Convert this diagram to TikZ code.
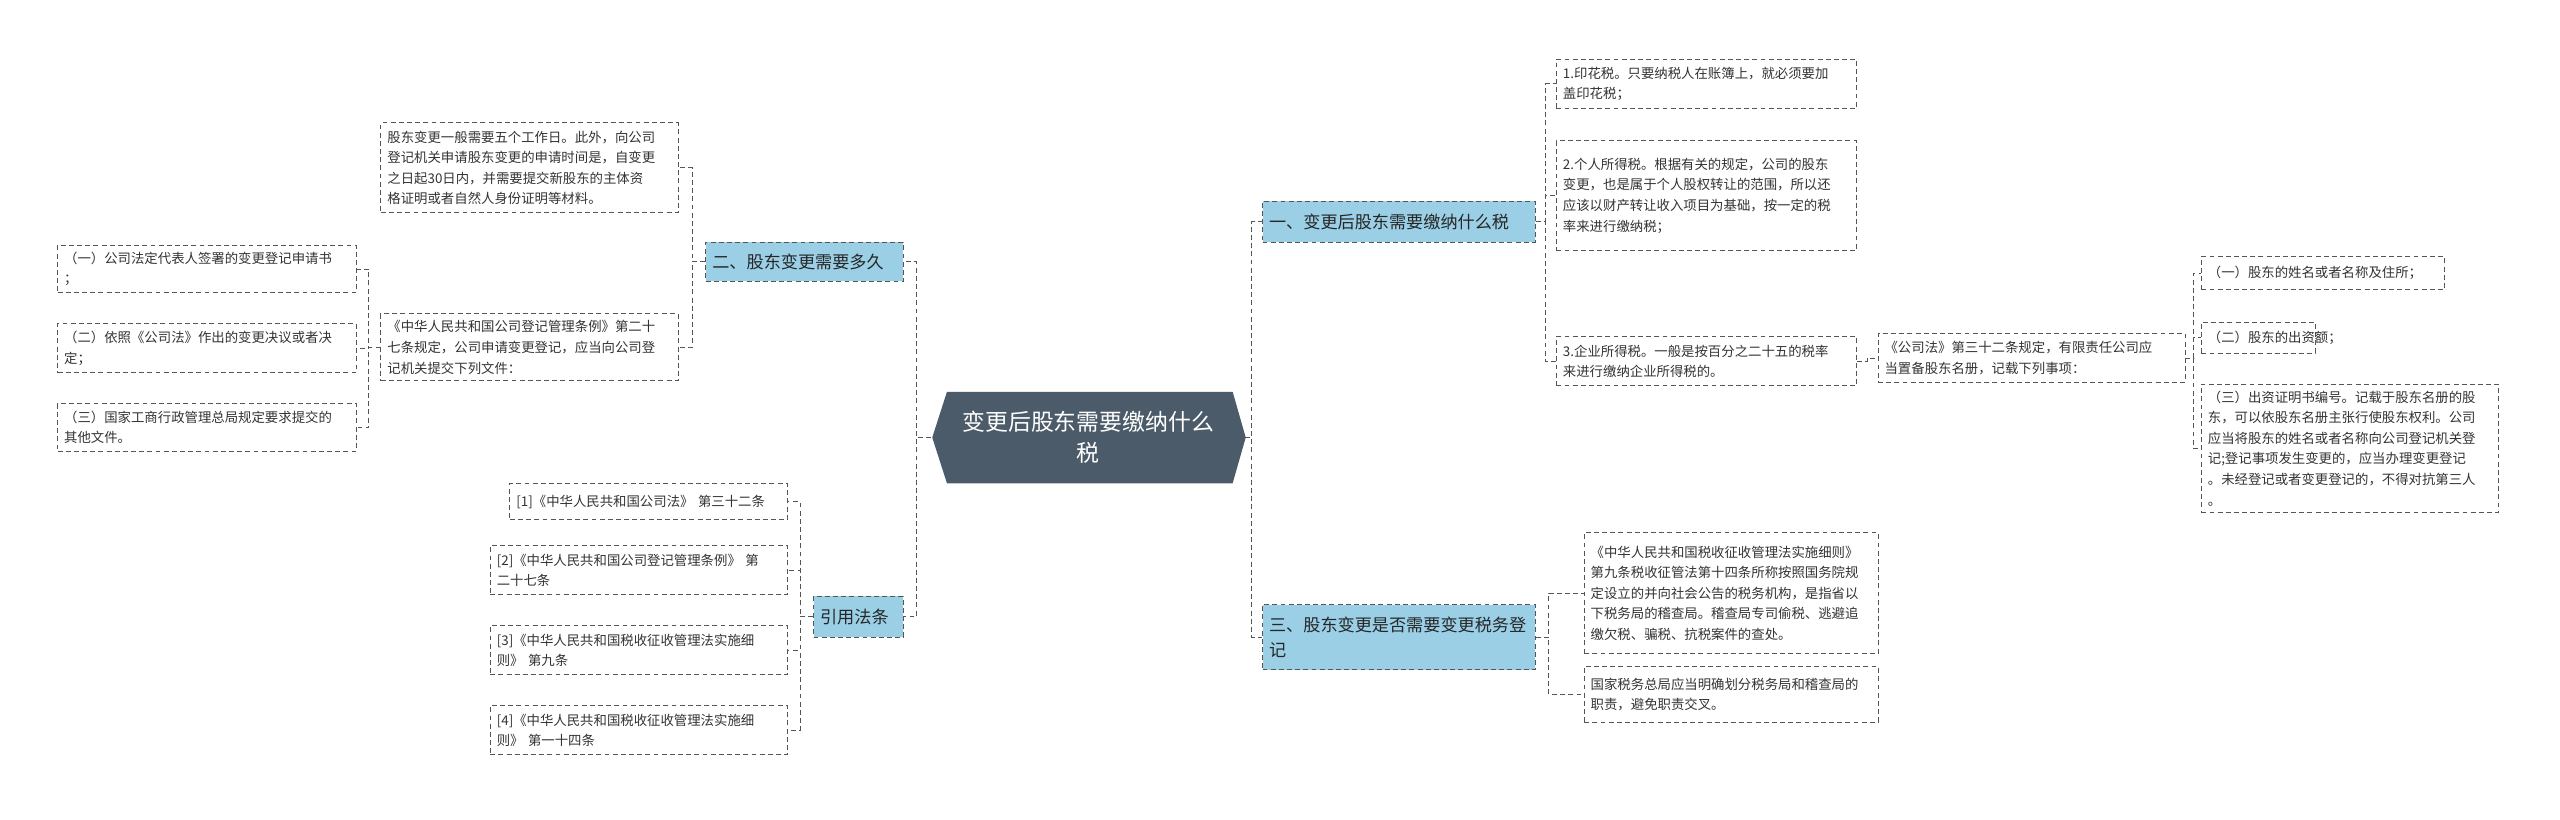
\documentclass[tikz,border=0pt]{standalone}
\usepackage{fontspec}
\setmainfont{Noto Sans CJK SC}
\usetikzlibrary{calc}
\definecolor{bfill}{HTML}{9ACFE6}
\definecolor{cfill}{HTML}{4B5B6A}
\definecolor{lc}{HTML}{555555}
\tikzset{
 leaf/.style={draw=lc, dash pattern=on 3pt off 2pt, line width=0.6pt, align=left, anchor=north west, inner sep=4pt, font=\fontsize{8.2}{12.6}\selectfont, text=black!80},
 branch/.style={leaf, fill=bfill, font=\fontsize{10.5}{15}\selectfont, text=black!85},
 conn/.style={draw=lc, dash pattern=on 3pt off 2pt, line width=0.6pt},
}
\newcommand{\lbox}[6]{\node[leaf, text width=#4-8pt, minimum height=#5] (#1) at (#2,#3) {#6};}
\begin{document}
\begin{tikzpicture}[x=1pt,y=-1pt]
\useasboundingbox (0,0) rectangle (1568,502);
% center
\fill[cfill] (580,240) -- (755,240) -- (763,268) -- (755,296) -- (580,296) -- (571,268) -- cycle;
\node[minimum width=192pt, minimum height=56pt, inner sep=0pt, align=center, text=white, font=\fontsize{14}{19}\selectfont] (c) at (666.5,268) {变更后股东需要缴纳什么\\税};
% branches
\node[branch, text width=159pt, minimum height=25pt] (b1) at (773,123) {一、变更后股东需要缴纳什么税};
\node[branch, text width=159pt, minimum height=40pt] (b3) at (773,370) {三、股东变更是否需要变更税务登\\记};
\node[branch, text width=113pt, minimum height=24pt] (b2) at (432,148) {二、股东变更需要多久};
\node[branch, text width=47pt, minimum height=25pt] (b4) at (498,365) {引用法条};
% branch 1 leaves
\lbox{l1}{953}{36}{184pt}{30pt}{1.印花税。只要纳税人在账簿上，就必须要加\\盖印花税；}
\lbox{l2}{953}{86}{184pt}{67pt}{2.个人所得税。根据有关的规定，公司的股东\\变更，也是属于个人股权转让的范围，所以还\\应该以财产转让收入项目为基础，按一定的税\\率来进行缴纳税；}
\lbox{l3}{953}{206}{184pt}{30pt}{3.企业所得税。一般是按百分之二十五的税率\\来进行缴纳企业所得税的。}
\lbox{l4}{1150}{204}{188pt}{30pt}{《公司法》第三十二条规定，有限责任公司应\\当置备股东名册，记载下列事项：}
\lbox{s1}{1348}{157}{149pt}{20pt}{（一）股东的姓名或者名称及住所；}
\lbox{s2}{1348}{197}{70pt}{19pt}{（二）股东的出资额；}
\lbox{s3}{1348}{235}{182pt}{73pt}{（三）出资证明书编号。记载于股东名册的股\\东，可以依股东名册主张行使股东权利。公司\\应当将股东的姓名或者名称向公司登记机关登\\记;登记事项发生变更的，应当办理变更登记\\。未经登记或者变更登记的，不得对抗第三人\\。}
% branch 3 leaves
\lbox{t1}{970}{326}{180pt}{74pt}{《中华人民共和国税收征收管理法实施细则》\\第九条税收征管法第十四条所称按照国务院规\\定设立的并向社会公告的税务机构，是指省以\\下税务局的稽查局。稽查局专司偷税、逃避追\\缴欠税、骗税、抗税案件的查处。}
\lbox{t2}{970}{408}{180pt}{34pt}{国家税务总局应当明确划分税务局和稽查局的\\职责，避免职责交叉。}
% branch 2 leaves
\lbox{n1}{233}{75}{182pt}{55pt}{股东变更一般需要五个工作日。此外，向公司\\登记机关申请股东变更的申请时间是，自变更\\之日起30日内，并需要提交新股东的主体资\\格证明或者自然人身份证明等材料。}
\lbox{n2}{233}{192}{182pt}{41pt}{《中华人民共和国公司登记管理条例》第二十\\七条规定，公司申请变更登记，应当向公司登\\记机关提交下列文件：}
\lbox{m1}{35}{150}{183pt}{28pt}{（一）公司法定代表人签署的变更登记申请书\\；}
\lbox{m2}{35}{198}{183pt}{30pt}{（二）依照《公司法》作出的变更决议或者决\\定；}
\lbox{m3}{35}{247}{183pt}{29pt}{（三）国家工商行政管理总局规定要求提交的\\其他文件。}
% branch 4 leaves
\lbox{r1}{312}{296}{170pt}{22pt}{[1]《中华人民共和国公司法》 第三十二条}
\lbox{r2}{300}{334}{182pt}{30pt}{[2]《中华人民共和国公司登记管理条例》 第\\二十七条}
\lbox{r3}{300}{383}{182pt}{30pt}{[3]《中华人民共和国税收征收管理法实施细\\则》 第九条}
\lbox{r4}{300}{432}{182pt}{30pt}{[4]《中华人民共和国税收征收管理法实施细\\则》 第一十四条}
% connectors
\draw[conn] (c.east) -- ++(4,0) |- (b1.west);
\draw[conn] (c.east) -- ++(4,0) |- (b3.west);
\draw[conn] (c.west) -- ++(-9,0) |- (b2.east);
\draw[conn] (c.west) -- ++(-9,0) |- (b4.east);
\foreach \t in {l1,l2,l3} \draw[conn] (b1.east) -- ++(6,0) |- (\t.west);
\draw[conn] (l3.east) -- ++(6,0) |- (l4.west);
\foreach \t in {s1,s2,s3} \draw[conn] (l4.east) -- ++(5,0) |- (\t.west);
\foreach \t in {t1,t2} \draw[conn] (b3.east) -- ++(8,0) |- (\t.west);
\foreach \t in {n1,n2} \draw[conn] (b2.west) -- ++(-8,0) |- (\t.east);
\foreach \t in {m1,m2,m3} \draw[conn] (n2.west) -- ++(-7,0) |- (\t.east);
\foreach \t in {r1,r2,r3,r4} \draw[conn] (b4.west) -- ++(-8,0) |- (\t.east);
\end{tikzpicture}
\end{document}
